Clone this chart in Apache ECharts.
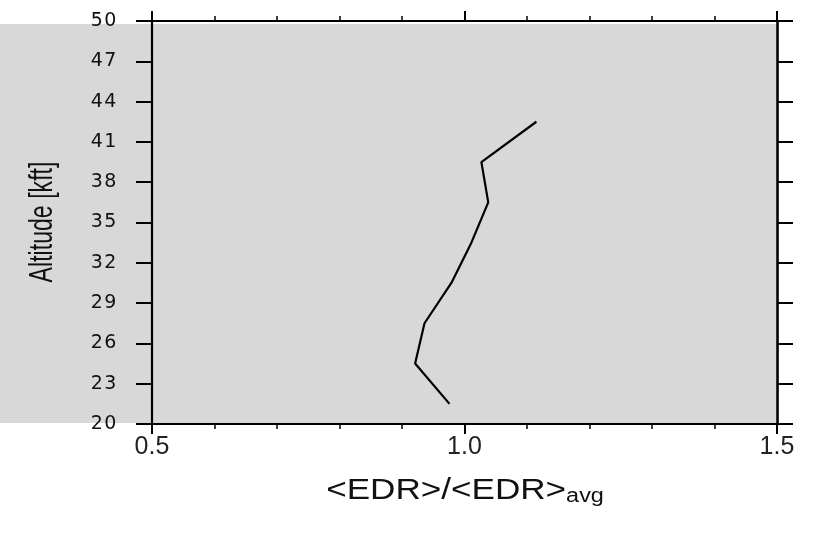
<!DOCTYPE html>
<html>
<head>
<meta charset="utf-8">
<title>EDR ratio by altitude</title>
<script src="https://cdn.jsdelivr.net/npm/echarts@6/dist/echarts.min.js"></script>
<style>
  html, body { margin: 0; padding: 0; background: #ffffff; }
  #chart { width: 815px; height: 535px; }
</style>
</head>
<body>
<div id="chart"></div>
<script>
// Altitude levels (kft) and the normalised EDR profile along them
const altitudes = [21.5, 24.5, 27.5, 30.5, 33.5, 36.5, 39.5, 42.5];
const edrRatio = [0.976, 0.921, 0.936, 0.979, 1.011, 1.038, 1.027, 1.115];

// Axis ranges and tick spacing
const xRange = [0.5, 1.5];
const xStep = 0.5;
const yRange = [20, 50];
const yStep = 3;

const xTitle = '<EDR>/<EDR>';
const xTitleSub = 'avg';
const yTitle = 'Altitude [kft]';

const chart = echarts.init(document.getElementById('chart'), null, { renderer: 'canvas' });

const ink = '#000000';
const axisFont = 'Liberation Sans, Arial, Helvetica, sans-serif';

function xAxisDef(pos, showLabels) {
  return {
    type: 'value',
    position: pos,
    min: xRange[0],
    max: xRange[1],
    interval: xStep,
    axisLine: { show: true, onZero: false, lineStyle: { color: ink, width: 2.2 } },
    axisTick: { show: true, inside: false, length: 10, lineStyle: { color: ink, width: 2 } },
    minorTick: { show: true, splitNumber: 5, length: 5, lineStyle: { color: ink, width: 1.5 } },
    splitLine: { show: false },
    minorSplitLine: { show: false },
    axisLabel: {
      show: showLabels,
      margin: 11,
      fontFamily: axisFont,
      fontSize: 25,
      color: '#222222',
      formatter: v => v.toFixed(1)
    }
  };
}

// Each digit of the altitude labels sits in its own box so the numbers read wide
function wideDigits(v) {
  return String(v).split('').map(ch => '{d|' + ch + '}').join('');
}

function yAxisDef(pos, showLabels) {
  return {
    type: 'value',
    position: pos,
    min: yRange[0],
    max: yRange[1],
    interval: yStep,
    axisLine: { show: true, onZero: false, lineStyle: { color: ink, width: pos === 'right' ? 2.6 : 2.2 } },
    axisTick: { show: true, inside: false, length: 16, lineStyle: { color: ink, width: 2 } },
    splitLine: { show: false },
    axisLabel: {
      show: showLabels,
      margin: 35,
      formatter: wideDigits,
      rich: {
        d: {
          width: 13.5,
          align: 'center',
          fontFamily: 'DejaVu Sans, sans-serif',
          fontSize: 19,
          color: '#111111'
        }
      }
    }
  };
}

const option = {
  animation: false,
  backgroundColor: '#ffffff',
  grid: {
    left: 152,
    right: 38,
    top: 21,
    bottom: 111,
    containLabel: false,
    outerBoundsMode: 'none'
  },
  graphic: [
    {
      type: 'rect',
      z: -10,
      silent: true,
      left: 0,
      top: 24,
      shape: { width: 776, height: 399 },
      style: { fill: '#d8d8d8' }
    },
    {
      // vertical axis title, set in a condensed cut
      type: 'text',
      z: 10,
      silent: true,
      x: 43,
      y: 222,
      rotation: Math.PI / 2,
      scaleX: 0.68,
      style: {
        text: yTitle,
        fontFamily: axisFont,
        fontSize: 34,
        fill: '#111111',
        align: 'center',
        verticalAlign: 'middle'
      }
    },
    {
      // horizontal axis title with the "avg" subscript
      type: 'text',
      z: 10,
      silent: true,
      x: 465,
      y: 491,
      scaleX: 1.17,
      style: {
        text: '{m|' + xTitle + '}{s|' + xTitleSub + '}',
        align: 'center',
        verticalAlign: 'middle',
        rich: {
          m: { fontFamily: axisFont, fontSize: 30, fill: '#111111', lineHeight: 30, verticalAlign: 'middle' },
          s: { fontFamily: axisFont, fontSize: 20, fill: '#111111', lineHeight: 12, verticalAlign: 'bottom' }
        }
      }
    }
  ],
  xAxis: [xAxisDef('bottom', true), xAxisDef('top', false)],
  yAxis: [yAxisDef('left', true), yAxisDef('right', false)],
  series: [
    {
      type: 'line',
      xAxisIndex: 0,
      yAxisIndex: 0,
      showSymbol: false,
      symbol: 'none',
      lineStyle: { color: ink, width: 2.2 },
      data: altitudes.map((a, i) => [edrRatio[i], a])
    }
  ]
};

chart.setOption(option);
</script>
</body>
</html>
